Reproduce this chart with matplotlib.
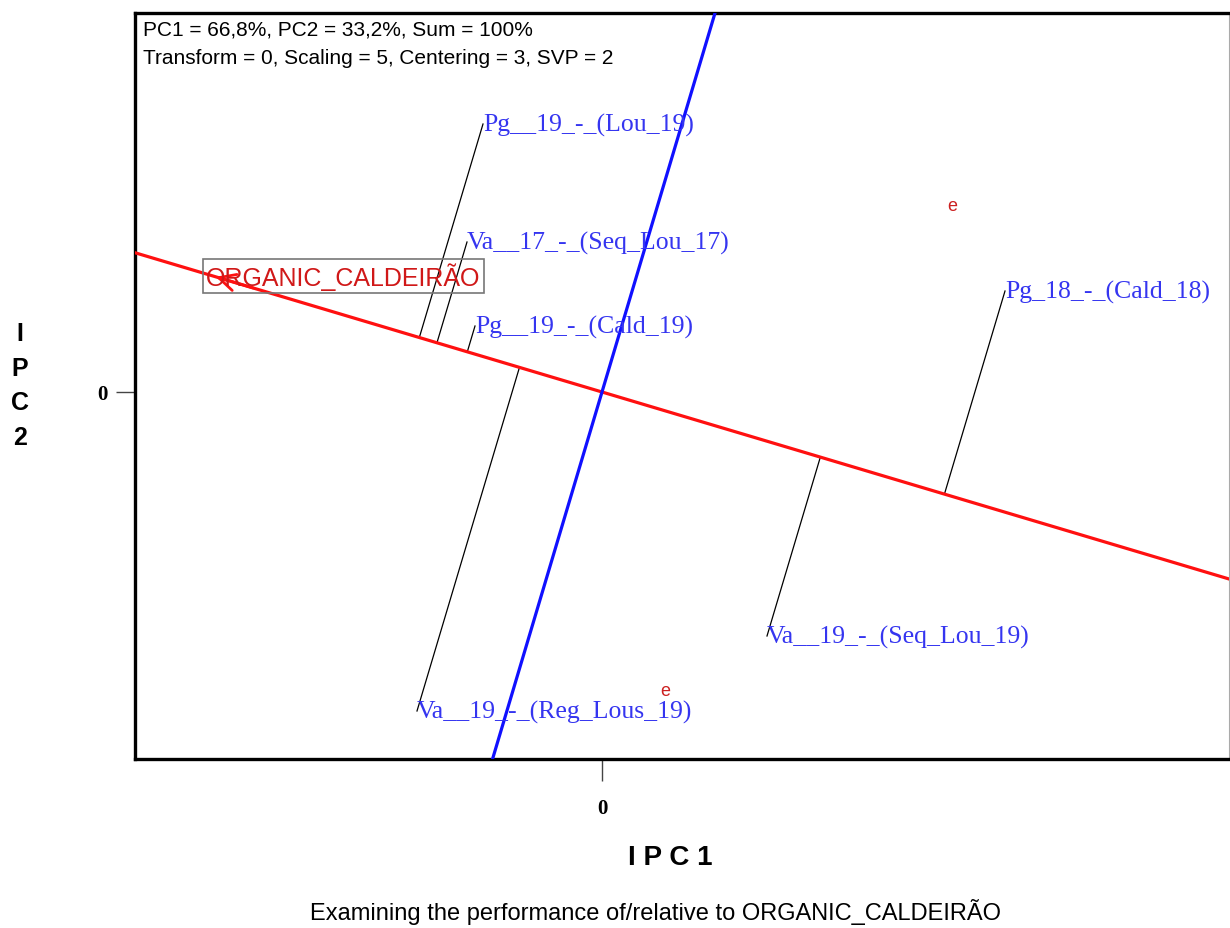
import matplotlib
matplotlib.use("Agg")
import matplotlib.pyplot as plt
import numpy as np

# genotype scores (PC1, PC2)
gen_names = ["Pg__19_-_(Lou_19)", "Va__17_-_(Seq_Lou_17)", "Pg__19_-_(Cald_19)",
             "Pg_18_-_(Cald_18)", "Va__19_-_(Seq_Lou_19)", "Va__19_-_(Reg_Lous_19)"]
gen_x = [-1.19, -1.35, -1.27, 4.03, 1.65, -1.85]
gen_y = [2.68, 1.50, 0.66, 1.01, -2.44, -3.19]

# focus environment
env_name = "ORGANIC_CALDEIR\u00c3O"
env_x, env_y = -3.89, 1.16

# other environment markers
e_x = [3.50, 0.63]
e_y = [1.86, -2.99]

xlim = (-4.67, 6.27)
ylim = (-3.67, 3.79)

fig = plt.figure(figsize=(12.3, 9.29), dpi=100)
ax = fig.add_axes([135/1230, 1 - 760/929, 1094/1230, 746/929])
ax.set_xlim(*xlim)
ax.set_ylim(*ylim)

for s in ["left", "top", "bottom"]:
    ax.spines[s].set_linewidth(2.4)
    ax.spines[s].set_color("black")
ax.spines["right"].set_linewidth(0.8)
ax.spines["right"].set_color("#aaaaaa")

# average environment axis and its perpendicular
ax.axline((0, 0), (env_x, env_y), color="#ff1010", lw=2.3, zorder=3)
ax.axline((0, 0), (-env_y, env_x), color="#1010ff", lw=2.3, zorder=3)

# projections of genotypes on the environment axis
u = np.array([env_x, env_y]) / np.hypot(env_x, env_y)
for gx, gy, name in zip(gen_x, gen_y, gen_names):
    d = gx * u[0] + gy * u[1]
    ax.plot([gx, d * u[0]], [gy, d * u[1]], color="black", lw=0.9, zorder=2)
    ax.text(gx, gy, name, ha="left", va="center", color="#3535f0",
            fontsize=18.5, family="Liberation Serif", zorder=4)

# environment vector arrow head and label
ax.annotate("", xy=(env_x, env_y), xytext=(env_x - 0.45 * u[0], env_y - 0.45 * u[1]),
            arrowprops=dict(arrowstyle="->", color="#ff1010", lw=2, mutation_scale=30), zorder=4)
ax.annotate(env_name, xy=(env_x, env_y), xytext=(-5, 0), textcoords="offset points",
            ha="left", va="center", color="#d01818", fontsize=18, family="Liberation Sans",
            bbox=dict(boxstyle="square,pad=0.12", fc="none", ec="#777777", lw=1.2), zorder=5)

for ex, ey in zip(e_x, e_y):
    ax.text(ex, ey, "e", ha="center", va="center", color="#cc2020",
            fontsize=13, family="Liberation Sans", zorder=4)

ax.set_xticks([0])
ax.set_yticks([0])
ax.set_xticklabels(["0"], fontsize=15, fontweight="bold", family="Liberation Serif")
ax.set_yticklabels(["0"], fontsize=15, fontweight="bold", family="Liberation Serif")
ax.tick_params(axis="x", length=16, width=1, color="#444444", pad=12)
ax.tick_params(axis="y", length=14, width=1, color="#444444", pad=6)

ax.text(0.007, 0.978, "PC1 = 66,8%, PC2 = 33,2%, Sum = 100%", transform=ax.transAxes,
        ha="left", va="center", fontsize=15, family="Liberation Sans")
ax.text(0.007, 0.941, "Transform = 0, Scaling = 5, Centering = 3, SVP = 2", transform=ax.transAxes,
        ha="left", va="center", fontsize=15, family="Liberation Sans")

fig.text(670/1230, 1 - 858/929, "I P C 1", ha="center", va="center",
         fontsize=20, fontweight="bold", family="Liberation Sans")
fig.text(20/1230, 1 - 386/929, "I\nP\nC\n2", ha="center", va="center",
         fontsize=18, fontweight="bold", family="Liberation Sans", linespacing=1.55)
fig.text(656/1230, 1 - 912/929, "Examining the performance of/relative to " + env_name,
         ha="center", va="center", fontsize=17, family="Liberation Sans")

fig.savefig("out.png", dpi=100)
